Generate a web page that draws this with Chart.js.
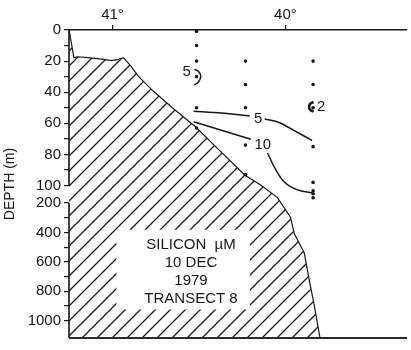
<!DOCTYPE html>
<html><head><meta charset="utf-8">
<script src="https://cdn.jsdelivr.net/npm/chart.js@4/dist/chart.umd.min.js"></script>
<style>html,body{margin:0;padding:0;background:#fff;}canvas{display:block;}</style>
</head><body>
<canvas id="c" width="411" height="350"></canvas>
<script>
// ---------- data ----------
const lonTicks = [41, 40];
const depthMajorTicks = [0, 20, 40, 60, 80, 100, 200, 400, 600, 800, 1000];
const depthMinorTicks = [10, 30, 50, 70, 90, 300, 500, 700, 900];

const stationLon = [40.514, 40.231, 39.840];
const station1Depth = [1, 10, 20, 30, 50, 63];
const station2Depth = [20, 35, 50, 74, 93];
const station3Depth = [20, 35, 50, 75, 98, 130, 147, 170];

const seabedLon   = [41.251, 41.223, 41.200, 41.143, 41.086, 41.040, 41.006, 40.971, 40.937, 40.897, 40.851, 40.766, 40.657, 40.589, 40.520, 40.389, 40.234, 40.143, 40.046, 39.971, 39.949, 39.891, 39.863, 39.834, 39.800];
const seabedDepth = [0, 17.8, 17.2, 17.8, 18.4, 19.1, 19.7, 19.1, 17.8, 22.8, 29.7, 39.1, 49.7, 55.9, 62.2, 76.6, 93.4, 99.7, 169, 296, 408, 540, 719, 891, 1118];

const c5aLon = [40.531, 40.371, 40.206];
const c5aDepth = [52.2, 53.4, 55.3];
const c5bLon = [40.120, 40.034, 39.949, 39.846];
const c5bDepth = [57.2, 59.6, 64.7, 71.0];
const c10aLon = [40.531, 40.200];
const c10aDepth = [59.0, 70.3];
const c10bLon = [40.103, 40.063, 40.006, 39.931, 39.846];
const c10bDepth = [79.1, 88.4, 97.8, 125, 141];
const c5cLon = [40.526, 40.503, 40.489, 40.503, 40.526];
const c5cDepth = [25.3, 26.6, 29.7, 33.4, 35.3];
const c2Lon = [39.837, 39.857, 39.863, 39.857, 39.837];
const c2Depth = [46.3, 47.5, 49.4, 51.3, 52.5];

const contourLabels = ['5', '10', '5', '2'];
const contourLabelLon = [40.157, 40.131, 40.571, 39.794];
const contourLabelDepth = [56.9, 74.0, 27.2, 49.4];

const boxLines = ['SILICON  \u00B5M', '10 DEC', '1979', 'TRANSECT 8'];
const yTitle = 'DEPTH (m)';

// ---------- broken depth axis mapping ----------
const K_UP = 1.6, K_GAP = 0.18, K_LOW = 0.1513;
function depthToPlot(d) {
  if (d <= 100) return d * K_UP;
  if (d <= 200) return 100 * K_UP + (d - 100) * K_GAP;
  return 100 * K_UP + 100 * K_GAP + (d - 200) * K_LOW;
}
const DEPTH_MAX = 1118;
const LON_LEFT = 41.2514, LON_RIGHT = 39.297;

const pts = (lons, ds) => lons.map((l, i) => ({x: l, y: depthToPlot(ds[i])}));
const FONT = "'Liberation Sans', Arial, Helvetica, sans-serif";
const INK = '#161616';

const ctx = document.getElementById('c').getContext('2d');
function makeHatch() {
  const s = 15;
  const cv = document.createElement('canvas');
  cv.width = s; cv.height = s;
  const g = cv.getContext('2d');
  g.strokeStyle = '#1a1a1a';
  g.lineWidth = 1.3;
  g.beginPath();
  g.moveTo(-2, s + 2); g.lineTo(s + 2, -2);
  g.moveTo(-2, 2); g.lineTo(2, -2);
  g.moveTo(s - 2, s + 2); g.lineTo(s + 2, s - 2);
  g.stroke();
  return ctx.createPattern(cv, 'repeat');
}
const hatch = makeHatch();

const lineDs = (lons, ds, w, tension) => ({
  type: 'line', data: pts(lons, ds), borderColor: INK, borderWidth: w,
  pointRadius: 0, tension: tension, fill: false
});
const dotDs = (lon, ds) => ({
  type: 'scatter', data: ds.map(d => ({x: lon, y: depthToPlot(d)})),
  pointRadius: 1.8, pointBackgroundColor: INK, pointBorderWidth: 0, showLine: false
});

const decor = {
  id: 'decor',
  afterDatasetsDraw(chart) {
    const c = chart.ctx, xs = chart.scales.x, ys = chart.scales.y, a = chart.chartArea;
    const px = l => xs.getPixelForValue(l);
    const py = d => ys.getPixelForValue(depthToPlot(d));
    c.save();
    // white text box cut out of hatching
    const bx1 = px(40.977), bx2 = px(40.206), by1 = py(382), by2 = py(924);
    c.fillStyle = '#fff';
    c.fillRect(bx1, by1, bx2 - bx1, by2 - by1);
    c.fillStyle = INK;
    c.font = '15px ' + FONT;
    c.textAlign = 'center';
    c.textBaseline = 'middle';
    const tx = px(40.546);
    boxLines.forEach((t, i) => c.fillText(t, tx, by1 + 15.5 + i * 17.7));
    // contour labels
    c.font = '15px ' + FONT;
    contourLabels.forEach((t, i) => c.fillText(t, px(contourLabelLon[i]), py(contourLabelDepth[i])));
    // broken left axis
    c.strokeStyle = INK;
    c.lineWidth = 1.6;
    c.beginPath();
    c.moveTo(a.left, a.top); c.lineTo(a.left, py(100));
    c.moveTo(a.left, py(200)); c.lineTo(a.left, a.bottom);
    c.stroke();
    // bottom line
    c.strokeStyle = '#2a2a2a';
    c.lineWidth = 2;
    c.beginPath();
    c.moveTo(a.left, a.bottom); c.lineTo(a.right, a.bottom);
    c.stroke();
    c.restore();
  }
};

new Chart(ctx, {
  type: 'scatter',
  data: {
    datasets: [
      dotDs(stationLon[0], station1Depth),
      dotDs(stationLon[1], station2Depth),
      dotDs(stationLon[2], station3Depth),
      lineDs(c5aLon, c5aDepth, 1.5, 0.3),
      lineDs(c5bLon, c5bDepth, 1.5, 0.35),
      lineDs(c10aLon, c10aDepth, 1.5, 0),
      lineDs(c10bLon, c10bDepth, 1.5, 0.35),
      lineDs(c5cLon, c5cDepth, 1.5, 0.4),
      lineDs(c2Lon, c2Depth, 2.6, 0.4),
      {
        type: 'line', data: pts(seabedLon, seabedDepth), borderColor: INK, borderWidth: 1.2,
        pointRadius: 0, tension: 0, backgroundColor: hatch,
        fill: {value: depthToPlot(DEPTH_MAX)}
      }
    ]
  },
  options: {
    responsive: false,
    animation: false,
    devicePixelRatio: 1,
    layout: {padding: {left: 0, right: 0, top: 0, bottom: 3}},
    plugins: {legend: {display: false}, tooltip: {enabled: false}},
    scales: {
      x: {
        type: 'linear', position: 'top', reverse: true,
        min: LON_RIGHT, max: LON_LEFT,
        afterBuildTicks: s => { s.ticks = lonTicks.map(v => ({value: v})); },
        afterFit: s => { s.height = 30; },
        ticks: {callback: v => v + '\u00B0', color: INK, font: {family: FONT, size: 15}, padding: 1, maxRotation: 0, autoSkip: false},
        grid: {drawOnChartArea: false, drawTicks: true, tickLength: 5, color: INK, lineWidth: 1.2},
        border: {display: true, color: INK, width: 1.6}
      },
      y: {
        type: 'linear', position: 'left', reverse: true,
        min: 0, max: depthToPlot(DEPTH_MAX),
        afterBuildTicks: s => {
          s.ticks = depthMajorTicks.concat(depthMinorTicks).sort((p, q) => p - q)
            .map(d => ({value: depthToPlot(d), depth: d}));
        },
        afterFit: s => { s.width = 69; },
        ticks: {
          autoSkip: false, color: INK, padding: 3, font: {family: FONT, size: 15},
          callback: (v, i, t) => depthMajorTicks.includes(t[i].depth) ? String(t[i].depth) : ''
        },
        grid: {drawOnChartArea: false, drawTicks: true, tickLength: 5, color: INK, lineWidth: 1.2},
        border: {display: false},
        title: {display: true, text: yTitle, color: INK, font: {family: FONT, size: 14}, padding: {top: 2, bottom: 0}}
      }
    }
  },
  plugins: [decor]
});
</script>
</body></html>
